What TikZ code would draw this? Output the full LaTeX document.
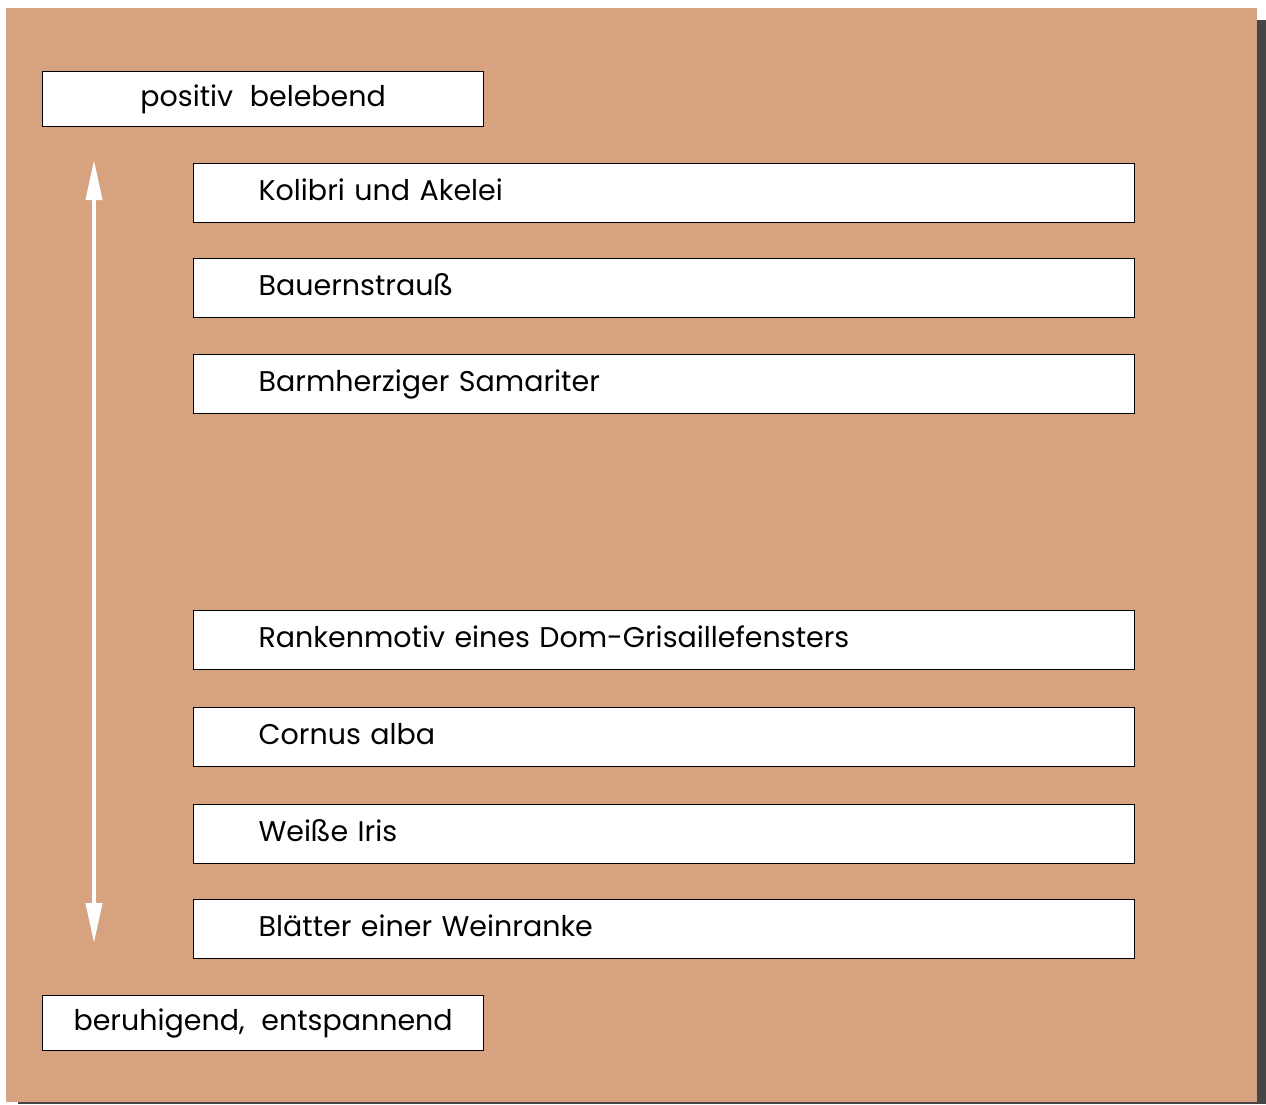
\documentclass[tikz,border=0pt]{standalone}
\usepackage{fontspec}
\setmainfont{Poppins}[WordSpace=2.2]
\usetikzlibrary{arrows.meta}
\definecolor{bgtan}{HTML}{D7A27F}
\definecolor{shadowgray}{HTML}{454545}
\tikzset{
  labelbox/.style={draw=black, line width=1.3pt, fill=white, minimum width=441pt, minimum height=55pt, anchor=north west, font=\fontsize{28.5}{32}\selectfont, inner sep=0pt, text height=20.5pt, text depth=6pt},
  itembox/.style={draw=black, line width=1.3pt, fill=white, minimum width=941pt, minimum height=59pt, anchor=north west, font=\fontsize{28.5}{32}\selectfont, text width=811pt, inner xsep=65pt, inner ysep=0pt, align=left, text height=20.5pt, text depth=6pt},
  scalearrow/.style={draw=white, line width=4pt, {Triangle[length=40pt,width=16pt]}-{Triangle[length=40pt,width=16pt]}}
}
\begin{document}
\begin{tikzpicture}[x=1pt,y=-1pt]
\useasboundingbox (0,0) rectangle (1266,1104);
\fill[shadowgray] (18,20) rectangle (1266,1104);
\fill[bgtan] (6,8) rectangle (1257,1102);
\node[labelbox] (top) at (42,71) {positiv belebend};
\node[labelbox] (bottom) at (42,995) {beruhigend, entspannend};
\node[itembox] (k1) at (193,163) {Kolibri und Akelei};
\node[itembox] (k2) at (193,258) {Bauernstrauß};
\node[itembox] (k3) at (193,354) {Barmherziger Samariter};
\node[itembox] (k4) at (193,610) {Rankenmotiv eines Dom-Grisaillefensters};
\node[itembox] (k5) at (193,707) {Cornus alba};
\node[itembox] (k6) at (193,804) {Weiße Iris};
\node[itembox] (k7) at (193,899) {Blätter einer Weinranke};
\coordinate (aTop) at (94,160);
\coordinate (aBot) at (94,943);
\draw[scalearrow] (aTop) -- (aBot);
\end{tikzpicture}
\end{document}
